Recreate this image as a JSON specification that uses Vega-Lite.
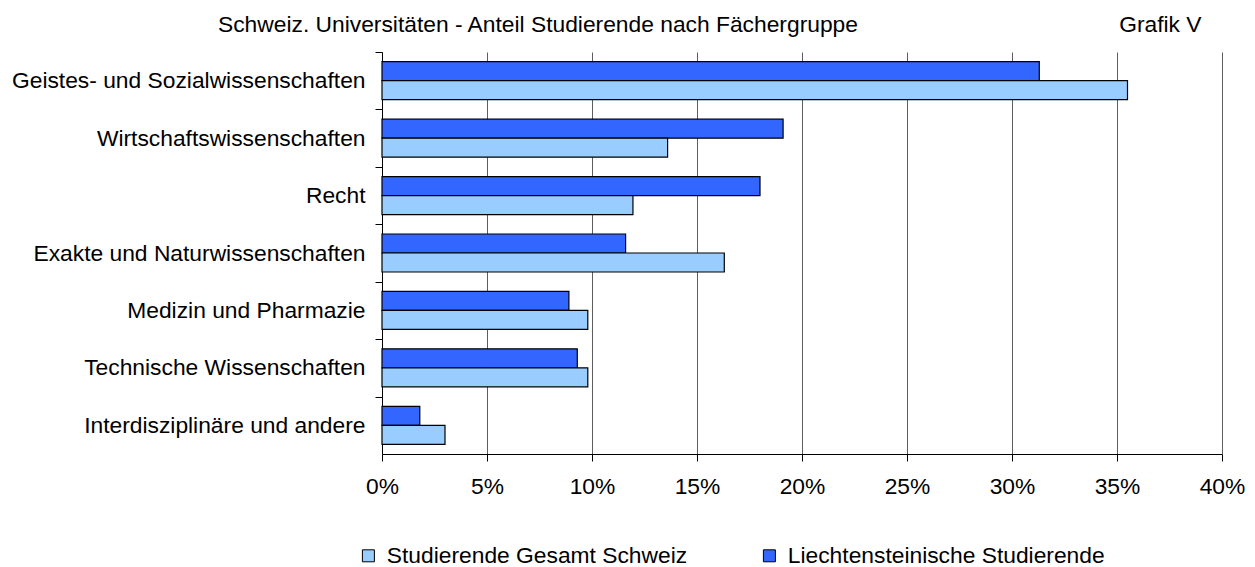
{
  "$schema": "https://vega.github.io/schema/vega-lite/v6.json",
  "width": 840,
  "height": 402,
  "autosize": {"type": "none"},
  "padding": {"left": 382, "top": 52, "right": 33, "bottom": 113},
  "background": "white",
  "config": {
    "font": "Liberation Sans",
    "view": {"stroke": null}
  },
  "title": {
    "text": "Schweiz. Universitäten - Anteil Studierende nach Fächergruppe",
    "frame": "group",
    "anchor": "start",
    "dx": -164,
    "dy": 42,
    "offset": 0,
    "baseline": "alphabetic",
    "fontSize": 22.8,
    "fontWeight": "normal",
    "font": "Liberation Sans",
    "color": "#000000"
  },
  "data": {
    "values": [
      {"fach": "Geistes- und Sozialwissenschaften", "gruppe": "Liechtensteinische Studierende", "anteil": 31.3},
      {"fach": "Geistes- und Sozialwissenschaften", "gruppe": "Studierende Gesamt Schweiz", "anteil": 35.5},
      {"fach": "Wirtschaftswissenschaften", "gruppe": "Liechtensteinische Studierende", "anteil": 19.1},
      {"fach": "Wirtschaftswissenschaften", "gruppe": "Studierende Gesamt Schweiz", "anteil": 13.6},
      {"fach": "Recht", "gruppe": "Liechtensteinische Studierende", "anteil": 18.0},
      {"fach": "Recht", "gruppe": "Studierende Gesamt Schweiz", "anteil": 11.95},
      {"fach": "Exakte und Naturwissenschaften", "gruppe": "Liechtensteinische Studierende", "anteil": 11.6},
      {"fach": "Exakte und Naturwissenschaften", "gruppe": "Studierende Gesamt Schweiz", "anteil": 16.3},
      {"fach": "Medizin und Pharmazie", "gruppe": "Liechtensteinische Studierende", "anteil": 8.9},
      {"fach": "Medizin und Pharmazie", "gruppe": "Studierende Gesamt Schweiz", "anteil": 9.8},
      {"fach": "Technische Wissenschaften", "gruppe": "Liechtensteinische Studierende", "anteil": 9.3},
      {"fach": "Technische Wissenschaften", "gruppe": "Studierende Gesamt Schweiz", "anteil": 9.8},
      {"fach": "Interdisziplinäre und andere", "gruppe": "Liechtensteinische Studierende", "anteil": 1.8},
      {"fach": "Interdisziplinäre und andere", "gruppe": "Studierende Gesamt Schweiz", "anteil": 3.0}
    ]
  },
  "mark": {"type": "bar", "stroke": "#000000", "strokeWidth": 1.2, "cornerRadius": 0},
  "encoding": {
    "y": {
      "field": "fach",
      "type": "nominal",
      "sort": null,
      "scale": {"paddingInner": 0.338, "paddingOuter": 0.169},
      "axis": {
        "title": "Grafik V",
        "titleAngle": 0,
        "titleAlign": "right",
        "titleBaseline": "alphabetic",
        "titleX": 819,
        "titleY": -21,
        "titleFontSize": 22.8,
        "titleFontWeight": "normal",
        "titleFont": "Liberation Sans",
        "titleColor": "#000000",
        "labelFontSize": 22.8,
        "labelFont": "Liberation Sans",
        "labelColor": "#000000",
        "labelPadding": 10,
        "labelLimit": 400,
        "tickSize": 7,
        "tickColor": "#000000",
        "tickOffset": -28.7,
        "labelOffset": 28.7,
        "domainColor": "#000000",
        "grid": false
      }
    },
    "yOffset": {
      "field": "gruppe",
      "type": "nominal",
      "scale": {"domain": ["Liechtensteinische Studierende", "Studierende Gesamt Schweiz"], "paddingInner": 0, "paddingOuter": 0}
    },
    "x": {
      "field": "anteil",
      "type": "quantitative",
      "scale": {"domain": [0, 40], "nice": false},
      "axis": {
        "title": null,
        "values": [0, 5, 10, 15, 20, 25, 30, 35, 40],
        "labelExpr": "datum.value + '%'",
        "labelFontSize": 22.8,
        "labelFont": "Liberation Sans",
        "labelColor": "#000000",
        "labelPadding": 14,
        "labelFlush": false,
        "tickSize": 7,
        "tickColor": "#000000",
        "domainColor": "#000000",
        "grid": true,
        "gridColor": "#5e5e5e",
        "gridWidth": 1,
        "gridOpacity": 1
      }
    },
    "color": {
      "field": "gruppe",
      "type": "nominal",
      "scale": {
        "domain": ["Studierende Gesamt Schweiz", "Liechtensteinische Studierende"],
        "range": ["#99CCFF", "#3366FF"]
      },
      "legend": {
        "title": null,
        "orient": "none",
        "direction": "horizontal",
        "legendX": -25,
        "legendY": 492,
        "symbolType": "square",
        "symbolSize": 144,
        "symbolStrokeColor": "#000000",
        "symbolStrokeWidth": 1,
        "symbolOpacity": 1,
        "labelFontSize": 22.8,
        "labelFont": "Liberation Sans",
        "labelColor": "#000000",
        "labelOffset": 7,
        "labelLimit": 500,
        "columnPadding": 70
      }
    }
  }
}
